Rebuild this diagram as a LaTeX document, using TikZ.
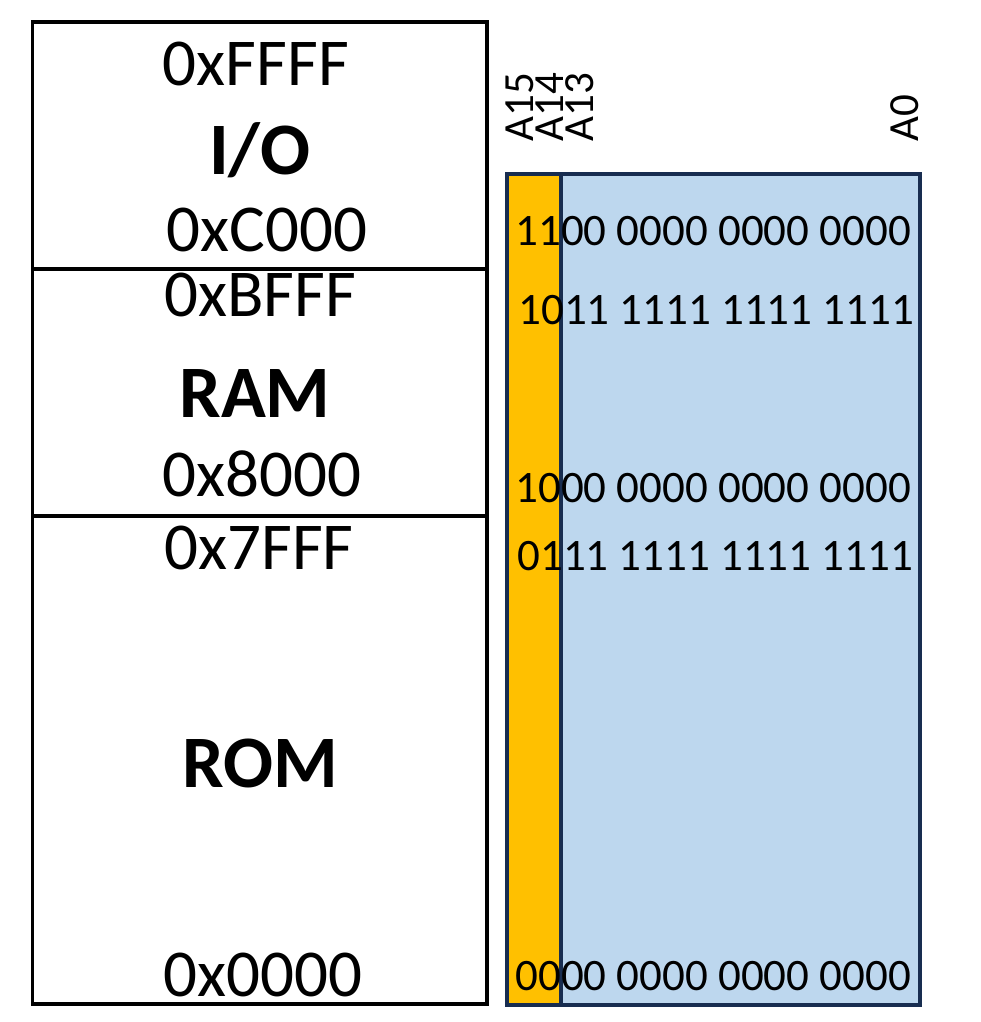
\documentclass[tikz,border=0pt]{standalone}
\usepackage{fontspec}
\setmainfont{Carlito}
\usepackage{tikz}
\usetikzlibrary{positioning}
\definecolor{bitblue}{RGB}{189,215,238}
\definecolor{bitorange}{RGB}{255,192,0}
\definecolor{bitnavy}{RGB}{24,45,80}

\begin{document}
\begin{tikzpicture}[x=0.5pt, y=-0.5pt,
  addr/.style={inner sep=0pt, font=\fontsize{33.5}{36}\selectfont},
  region/.style={inner sep=0pt, font=\fontsize{37}{40}\selectfont\bfseries},
  bits/.style={inner sep=0pt, anchor=west, font=\fontsize{22.5}{26}\selectfont},
  pin/.style={inner sep=0pt, anchor=west, rotate=90, font=\fontsize{21.5}{24}\selectfont},
  mapline/.style={line width=1.75pt, black},
]
  \useasboundingbox (0,0) rectangle (980,1022);

  % memory map
  \draw[mapline] (32.5,22) rectangle (487,1004);
  \draw[mapline] (32.5,269) -- (487,269);
  \draw[mapline] (32.5,516) -- (487,516);

  \node[addr]   (ffff) at (256,64)  {0xFFFF};
  \node[region] (io)   at (260,150) {I/O};
  \node[addr]   (c000) at (267,230) {0xC000};
  \node[addr]   (bfff) at (260,295) {0xBFFF};
  \node[region] (ram)  at (255,394) {RAM};
  \node[addr]   (8000) at (262,474) {0x8000};
  \node[addr]   (7fff) at (259,548) {0x7FFF};
  \node[region] (rom)  at (260,763) {ROM};
  \node[addr]   (0000) at (263,975) {0x0000};

  % address bits
  \fill[bitblue]   (507,174) rectangle (920,1004.5);
  \fill[bitorange] (507,174) rectangle (561,1004.5);
  \draw[bitnavy, line width=2pt] (561,174) -- (561,1004.5);
  \draw[bitnavy, line width=2pt] (507,174) rectangle (920,1004.5);

  \node[pin] (a15) at (520,142) {A15};
  \node[pin] (a14) at (550,142) {A14};
  \node[pin] (a13) at (580,142) {A13};
  \node[pin] (a0)  at (905,142) {A0};

  \node[bits] (bc000) at (515,231) {1100 0000 0000 0000};
  \node[bits] (bbfff) at (518,310) {1011 1111 1111 1111};
  \node[bits] (b8000) at (515,488) {1000 0000 0000 0000};
  \node[bits] (b7fff) at (517,556) {0111 1111 1111 1111};
  \node[bits] (b0000) at (515,976) {0000 0000 0000 0000};
\end{tikzpicture}
\end{document}
